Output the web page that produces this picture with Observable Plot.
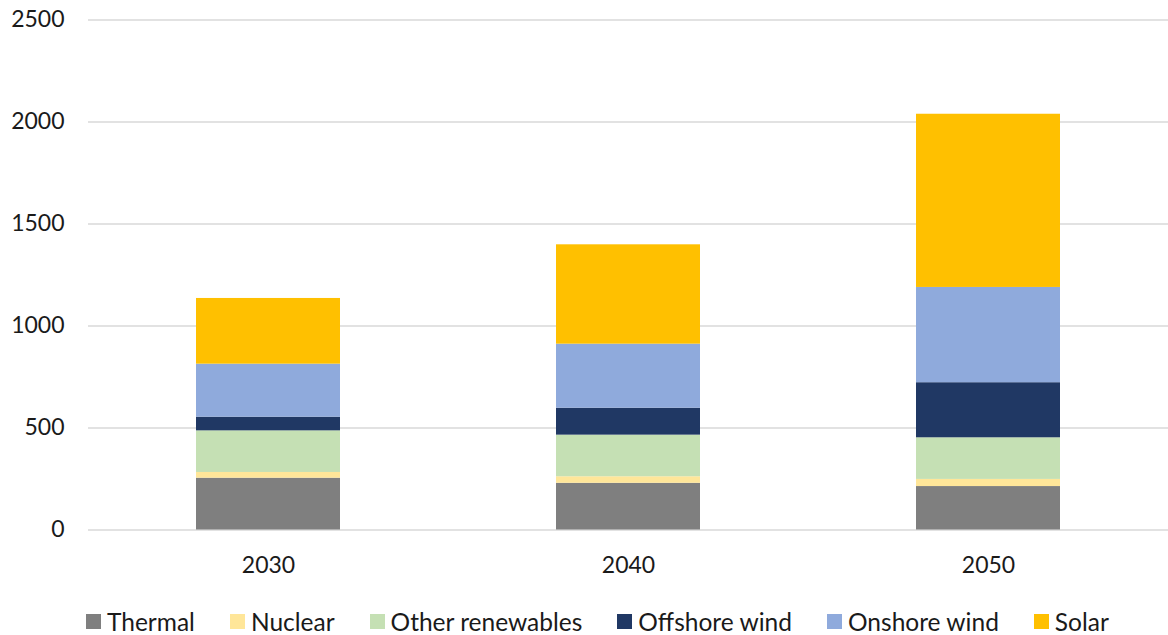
<!DOCTYPE html>
<html>
<head>
<meta charset="utf-8">
<script src="https://cdn.jsdelivr.net/npm/d3@7"></script>
<script src="https://cdn.jsdelivr.net/npm/@observablehq/plot@0.6"></script>
<style>
  html, body { margin: 0; padding: 0; background: #fff; }
  #chart { width: 1168px; font-family: Lato, "Open Sans", sans-serif; }
  .legend { display: flex; align-items: center; height: 30px; padding-left: 86px; font-size: 24.5px; color: #1a1a1a; }
  .legend .item { display: flex; align-items: center; margin-right: 35px; }
  .legend .sw { width: 15px; height: 15px; margin-right: 6px; }
</style>
</head>
<body>
<div id="chart"></div>
<script>
// Installed capacity by source (GW)
const years = ["2030", "2040", "2050"];
const sources = ["Thermal", "Nuclear", "Other renewables", "Offshore wind", "Onshore wind", "Solar"];
const colors = ["#7f7f7f", "#ffe699", "#c5e0b4", "#203864", "#8faadc", "#ffc000"];

const thermal = [254, 229, 213];
const nuclear = [28, 32, 35];
const otherRenewables = [204, 204, 204];
const offshoreWind = [67, 132, 270];
const onshoreWind = [260, 314, 467];
const solar = [322, 487, 849];

const yTicks = [0, 500, 1000, 1500, 2000, 2500];

const series = [thermal, nuclear, otherRenewables, offshoreWind, onshoreWind, solar];
const rows = [];
years.forEach((year, i) => {
  sources.forEach((source, j) => {
    rows.push({year, source, value: series[j][i]});
  });
});

const chart = Plot.plot({
  width: 1168,
  height: 606,
  marginTop: 19.5,
  marginBottom: 76.5,
  marginLeft: 88,
  marginRight: 0,
  style: {fontFamily: "Lato, 'Open Sans', sans-serif", fontSize: "23px", color: "#1a1a1a", background: "#fff"},
  x: {domain: years, paddingInner: 0.6, paddingOuter: 0.3, label: null},
  y: {domain: [0, 2500], label: null},
  color: {domain: sources, range: colors},
  marks: [
    Plot.gridY(yTicks, {stroke: "#d9d9d9", strokeOpacity: 1, strokeWidth: 1.5}),
    Plot.barY(rows, Plot.stackY({order: sources}, {
      x: "year", y: "value", fill: "source", z: "source"
    })),
    Plot.axisY(yTicks, {tickSize: 0, tickPadding: 24, fontSize: 23, tickFormat: d => String(d)}),
    Plot.axisX({tickSize: 0, tickPadding: 27, fontSize: 23})
  ]
});

const root = document.getElementById("chart");
root.appendChild(chart);

const legend = document.createElement("div");
legend.className = "legend";
sources.forEach((s, i) => {
  const item = document.createElement("div");
  item.className = "item";
  const sw = document.createElement("span");
  sw.className = "sw";
  sw.style.background = colors[i];
  const label = document.createElement("span");
  label.textContent = s;
  item.appendChild(sw);
  item.appendChild(label);
  legend.appendChild(item);
});
root.appendChild(legend);
</script>
</body>
</html>
